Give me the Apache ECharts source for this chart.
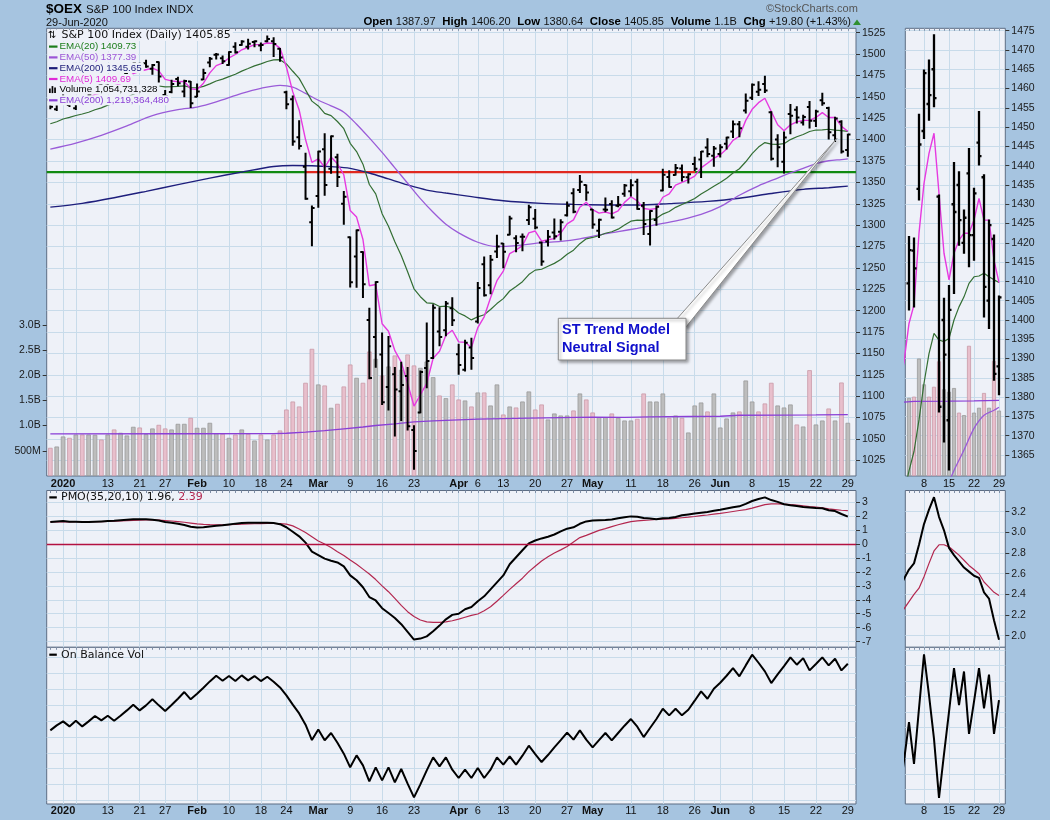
<!DOCTYPE html>
<html><head><meta charset="utf-8">
<script src="https://cdn.jsdelivr.net/npm/echarts@6.0.0/dist/echarts.min.js"></script>
<style>html,body{margin:0;padding:0;background:#a6c4e0;}#c{width:1050px;height:820px;}</style>
</head><body><div id="c"></div>
<script>
// ---------- DATA (day index 0 = 30-Dec-2019 ... 125 = 29-Jun-2020) ----------
const prevClose = 1446.7; // close of 27-Dec-2019
const open = [1446.7,1435.6,1448.7,1440.6,1436.6,1447.5,1446.0,1458.3,1465.3,1462.9,
1469.2,1467.8,1477.1,1486.3,1485.2,1489.2,1482.8,1490.6,1452.1,1455.8,
1471.0,1456.3,1467.9,1450.2,1470.4,1490.2,1499.2,1495.0,1487.3,1508.6,
1510.7,1508.6,1514.1,1510.0,1515.1,1515.1,1506.2,1455.5,1447.2,1402.9,
1368.4,1303.3,1334.0,1388.8,1366.0,1379.5,1325.0,1285.9,1263.3,1268.7,
1189.1,1169.3,1148.9,1110.9,1125.7,1105.8,1123.6,1060.6,1080.8,1133.0,
1144.6,1175.7,1177.1,1202.8,1149.1,1130.9,1156.9,1187.3,1254.3,1229.7,
1269.1,1278.5,1288.9,1284.6,1286.3,1306.1,1307.6,1279.6,1281.0,1291.4,
1292.4,1311.7,1337.2,1341.0,1346.8,1318.3,1293.5,1318.3,1324.8,1322.6,
1336.6,1339.7,1350.7,1322.6,1289.7,1306.0,1340.4,1356.4,1358.7,1366.2,
1356.1,1371.4,1376.7,1390.8,1381.0,1383.3,1395.1,1409.5,1418.0,1434.0,
1449.0,1456.0,1465.0,1432.0,1400.0,1374.0,1430.0,1435.0,1420.0,1438.0,
1422.0,1446.0,1437.0,1405.0,1421.0,1387.97];
const high = [1447.1,1443.0,1454.8,1449.4,1449.7,1448.9,1458.8,1462.6,1465.9,1470.4,
1473.2,1475.2,1483.4,1489.1,1489.1,1492.7,1487.8,1490.6,1457.4,1469.4,
1472.8,1469.4,1467.9,1464.9,1482.2,1495.9,1500.6,1497.6,1502.5,1513.0,
1515.6,1517.2,1515.2,1512.7,1521.0,1519.0,1506.3,1456.5,1450.8,1422.0,
1383.8,1322.4,1386.3,1406.8,1404.2,1382.7,1339.2,1285.9,1294.3,1268.7,
1202.7,1233.7,1173.8,1169.7,1133.5,1139.7,1133.3,1065.2,1129.3,1185.4,
1206.7,1203.3,1210.6,1215.0,1160.5,1165.3,1167.6,1232.7,1262.7,1264.4,
1288.1,1278.5,1310.4,1287.5,1289.6,1323.0,1318.3,1280.0,1293.5,1307.2,
1306.2,1326.9,1342.3,1357.8,1346.8,1318.3,1306.9,1331.7,1328.5,1333.4,
1347.3,1352.9,1353.6,1326.4,1316.6,1322.2,1365.3,1363.5,1370.9,1370.1,
1360.1,1379.4,1386.1,1400.8,1391.9,1393.9,1402.5,1421.6,1421.2,1453.3,
1464.8,1467.4,1473.9,1432.4,1405.6,1408.9,1440.8,1438.4,1428.5,1444.4,
1434.1,1454.0,1437.6,1425.9,1422.0,1406.2];
const low = [1436.2,1434.2,1444.7,1438.8,1435.3,1443.3,1445.2,1457.2,1456.0,1461.6,
1465.6,1467.1,1477.0,1484.2,1483.2,1484.7,1476.6,1467.5,1446.5,1454.8,
1463.2,1450.2,1437.6,1450.2,1470.4,1485.2,1494.5,1489.0,1487.0,1501.5,
1510.3,1506.2,1508.7,1504.0,1514.4,1497.4,1491.8,1436.3,1393.5,1389.1,
1330.3,1276.0,1320.9,1335.0,1360.9,1345.4,1301.3,1227.8,1227.6,1215.5,
1120.4,1134.0,1090.5,1084.1,1053.6,1071.7,1060.5,1014.8,1080.8,1109.9,
1144.3,1159.2,1170.8,1182.7,1125.8,1129.7,1131.6,1185.6,1217.2,1219.8,
1262.4,1250.4,1288.9,1268.9,1270.2,1300.8,1296.0,1253.1,1275.6,1284.0,
1282.8,1310.9,1314.5,1338.2,1329.1,1296.5,1285.6,1315.8,1308.5,1321.7,
1333.9,1334.1,1318.6,1289.1,1276.8,1300.0,1340.4,1344.3,1358.7,1351.7,
1349.5,1364.1,1355.7,1380.2,1368.9,1379.9,1389.1,1402.6,1403.4,1431.1,
1447.1,1451.8,1455.3,1376.2,1368.4,1361.1,1406.9,1419.4,1417.3,1413.8,
1415.5,1440.2,1400.8,1397.8,1384.4,1380.64];
const close = [1438.3,1442.5,1454.6,1444.4,1449.5,1445.4,1452.5,1462.2,1458.0,1470.4,
1468.2,1471.0,1483.3,1489.0,1485.1,1485.5,1487.2,1473.8,1450.6,1465.1,
1466.0,1468.4,1442.5,1456.2,1478.0,1494.6,1499.6,1491.5,1502.4,1502.0,
1514.7,1512.2,1515.0,1510.6,1517.7,1511.9,1496.0,1441.3,1397.7,1392.4,
1330.9,1320.0,1386.0,1347.0,1403.9,1356.2,1333.1,1233.2,1294.1,1230.9,
1121.2,1233.5,1092.8,1158.4,1107.9,1113.1,1064.9,1035.9,1128.2,1141.2,
1203.5,1169.1,1208.3,1188.9,1136.4,1162.4,1144.8,1226.6,1218.0,1259.5,
1274.9,1269.0,1307.8,1279.0,1286.4,1320.9,1297.2,1257.5,1286.3,1287.0,
1303.5,1322.7,1315.7,1350.7,1338.3,1300.7,1306.2,1318.0,1308.8,1323.9,
1346.3,1346.5,1318.8,1301.4,1316.4,1321.6,1358.8,1344.6,1366.9,1356.3,
1359.5,1365.8,1386.0,1383.1,1389.7,1391.0,1402.4,1418.1,1413.4,1445.5,
1464.0,1458.3,1457.5,1377.5,1391.0,1402.6,1428.0,1425.9,1426.5,1422.0,
1432.8,1442.5,1408.6,1424.6,1386.05,1405.85];
// volume in millions of shares
const volume = [559,585,784,757,823,823,823,817,724,823,
923,857,804,976,962,830,943,1015,943,923,
1035,1035,1154,956,956,1055,850,837,757,823,
923,837,704,823,724,823,903,1319,1478,1379,
1849,2523,1816,1796,1353,1432,1776,2212,1948,1849,
2470,2325,1994,2173,2391,2107,2411,2193,2146,2272,
1961,1597,1544,1816,1518,1498,1379,1657,1657,1399,
1816,1220,1379,1359,1478,1677,1319,1419,1121,1240,
1200,1200,1300,1637,1518,1260,1167,1167,1240,1154,
1101,1101,1134,1637,1478,1478,1637,1154,1200,1154,
863,1399,1458,1280,1637,962,1141,1260,1280,1895,
1478,1280,1439,1849,1399,1359,1419,1022,982,2100,
1022,1101,1339,1101,1855,1055];
const ema5 = [1442.1,1442.2,1446.3,1445.7,1447.0,1446.4,1448.5,1453.0,1454.7,1459.9,
1462.7,1465.5,1471.4,1477.3,1479.9,1481.7,1483.5,1480.3,1470.4,1468.6,
1467.8,1468.0,1459.5,1458.4,1466.0,1478.0,1486.5,1489.5,1495.5,1499.5,
1505.0,1508.0,1511.0,1511.0,1513.0,1512.5,1507.0,1484.9,1455.8,1434.7,
1400.1,1373.4,1377.6,1367.4,1379.6,1371.8,1358.9,1317.0,1309.4,1283.2,
1229.2,1230.6,1184.7,1175.9,1153.2,1139.8,1114.8,1088.5,1101.7,1114.9,
1144.4,1152.6,1171.2,1177.1,1163.5,1163.1,1157.0,1180.2,1192.8,1215.0,
1235.0,1246.3,1266.8,1270.9,1276.1,1291.0,1293.1,1281.2,1282.9,1284.3,
1290.7,1301.4,1306.2,1321.0,1326.8,1318.1,1314.1,1315.4,1313.2,1316.8,
1326.6,1333.2,1328.4,1319.4,1318.4,1319.5,1332.6,1336.6,1346.7,1349.9,
1353.1,1357.3,1366.9,1372.3,1378.1,1382.4,1389.1,1399.1,1403.9,1422.5,
1435.4,1443.2,1448.4,1432.8,1417.3,1410.4,1417.3,1420.7,1422.5,1422.5,
1425.9,1431.5,1425.9,1425.9,1415.5,1409.69];
const ema20 = [1418.6,1420.9,1424.1,1426.0,1428.2,1429.9,1432.0,1434.9,1437.1,1440.3,
1442.9,1445.6,1449.2,1453.0,1456.0,1458.8,1461.5,1462.7,1461.6,1461.9,
1462.3,1462.9,1460.9,1460.5,1462.2,1465.2,1468.5,1470.7,1473.7,1476.4,
1480.1,1483.1,1486.2,1488.5,1491.3,1493.2,1493.5,1488.5,1479.9,1471.6,
1458.2,1445.0,1439.4,1430.6,1428.1,1421.2,1412.8,1395.7,1386.0,1371.3,
1347.5,1336.6,1313.4,1298.6,1280.5,1264.5,1245.5,1225.6,1216.3,1209.2,
1208.6,1204.8,1205.2,1203.6,1197.2,1193.9,1189.2,1192.8,1195.2,1201.3,
1208.3,1214.1,1223.0,1228.3,1233.9,1242.2,1247.4,1248.4,1252.0,1255.3,
1259.9,1265.9,1270.7,1278.3,1284.0,1285.6,1287.6,1290.5,1292.3,1295.3,
1300.1,1304.6,1305.9,1305.5,1306.6,1308.0,1312.9,1315.9,1320.8,1324.2,
1327.5,1331.2,1336.4,1340.9,1345.5,1349.9,1354.9,1360.9,1365.9,1374.1,
1383.6,1391.3,1396.5,1394.8,1394.4,1395.2,1400.0,1403.4,1406.0,1409.5,
1411.2,1411.4,1412.1,1411.2,1410.4,1409.73];
// slow averages read at these day indexes
const ema50 = [[0,1389],[4,1396],[8,1405],[12,1416],[16,1428],[20,1435],[23,1438],[26,1444],[30,1454],[33,1460],[36,1463.5],[38,1461.5],[40,1454],[42,1446],[44,1439.5],[46,1432],[48,1418],[50,1402],[52,1385],[54,1367],[56,1349],[58,1331],[60,1315],[62,1301],[64,1291],[67,1280],[70,1275],[73,1276],[77,1279.5],[80,1281],[83,1284],[86,1288.5],[89,1292.4],[92,1296.3],[96,1302],[99,1306.5],[102,1312.5],[105,1321.6],[108,1335],[111,1346],[114,1355],[116,1361],[118,1366.3],[120,1371.9],[122,1375.3],[124,1376.6],[125,1377.39]];
const ema200 = [[0,1321],[5,1325.5],[10,1332],[15,1339.5],[20,1347.3],[25,1355],[30,1362],[35,1368.5],[38,1369.8],[41,1369.5],[44,1368.4],[47,1366.4],[50,1361],[53,1354],[56,1347],[59,1341],[62,1337.5],[66,1333.3],[71,1328.5],[77,1325.5],[82,1324.3],[87,1323.6],[92,1323.5],[97,1325.2],[103,1327.8],[108,1331.4],[113,1337],[118,1341.8],[122,1343.8],[125,1345.65]];
const volEma200 = [[0,837],[20,838],[35,840],[37,848],[40,870],[43,900],[46,936],[49,972],[51,1002],[54,1036],[57,1075],[60,1095],[63,1110],[67,1128],[71,1140],[75,1148],[80,1158],[85,1167],[90,1162],[94,1175],[100,1181],[105,1186],[108,1205],[115,1208],[120,1212],[125,1219]];
const pmo = [1.58,1.62,1.64,1.60,1.60,1.58,1.58,1.60,1.62,1.64,
1.66,1.70,1.74,1.77,1.78,1.77,1.74,1.68,1.58,1.52,
1.45,1.36,1.24,1.18,1.20,1.25,1.30,1.34,1.40,1.46,
1.50,1.52,1.52,1.52,1.52,1.50,1.42,1.20,0.88,0.55,
0.10,-0.55,-0.80,-1.05,-1.20,-1.32,-1.60,-2.25,-2.60,-3.10,
-3.80,-4.05,-4.60,-4.95,-5.30,-5.75,-6.30,-6.85,-6.78,-6.62,
-6.25,-5.85,-5.40,-5.08,-5.00,-4.68,-4.52,-4.10,-3.75,-3.25,
-2.75,-2.25,-1.45,-0.95,-0.45,0.05,0.25,0.40,0.52,0.68,
0.90,1.10,1.20,1.45,1.62,1.68,1.70,1.72,1.76,1.85,
1.92,1.98,1.96,1.86,1.82,1.78,1.85,1.86,1.94,2.06,
2.12,2.18,2.24,2.30,2.38,2.45,2.55,2.64,2.70,2.88,
3.08,3.22,3.34,3.15,3.02,2.85,2.78,2.72,2.66,2.62,
2.58,2.56,2.42,2.36,2.15,1.96];
const pmoSignal = [1.58,1.58,1.59,1.59,1.60,1.60,1.60,1.60,1.61,1.62,
1.63,1.65,1.67,1.69,1.71,1.72,1.72,1.71,1.68,1.65,
1.61,1.56,1.50,1.44,1.41,1.39,1.38,1.37,1.38,1.40,
1.42,1.44,1.45,1.46,1.47,1.47,1.46,1.42,1.30,1.08,
0.82,0.52,0.22,0.00,-0.25,-0.55,-0.82,-1.15,-1.45,-1.80,
-2.15,-2.55,-3.00,-3.42,-3.90,-4.40,-4.85,-5.20,-5.45,-5.58,
-5.62,-5.62,-5.58,-5.50,-5.38,-5.25,-5.12,-5.02,-4.78,-4.50,
-4.10,-3.68,-3.25,-2.85,-2.45,-1.98,-1.60,-1.22,-0.92,-0.65,
-0.42,-0.18,0.15,0.46,0.62,0.80,0.98,1.10,1.25,1.38,
1.50,1.60,1.66,1.70,1.72,1.76,1.78,1.80,1.84,1.88,
1.92,1.97,2.03,2.08,2.14,2.19,2.26,2.33,2.40,2.46,
2.57,2.70,2.82,2.88,2.88,2.86,2.82,2.78,2.73,2.68,
2.64,2.60,2.52,2.47,2.42,2.39];
// On Balance Volume, billions of shares (relative)
const obv = [12.01,12.83,13.48,12.66,13.59,12.66,13.48,14.35,13.64,14.40,
13.59,14.40,15.27,16.20,15.27,16.09,17.07,16.09,15.16,16.14,
17.17,18.26,17.07,17.99,18.97,20.00,20.92,20.11,20.87,20.05,
20.98,20.16,20.87,20.05,20.76,19.95,19.02,17.72,16.20,14.78,
12.93,10.43,12.17,10.38,11.58,10.00,8.21,5.98,7.93,6.30,
3.70,5.98,3.86,5.98,3.53,5.71,3.32,1.09,3.21,5.49,
7.61,6.14,7.61,5.60,4.24,5.60,4.24,5.87,4.24,5.60,
7.61,6.41,7.77,6.41,7.88,9.51,8.15,6.85,7.99,9.24,
10.43,11.63,10.49,12.01,10.49,9.24,10.43,11.58,10.38,11.58,
12.77,13.86,12.61,10.92,12.39,13.86,15.54,14.46,15.54,14.46,
15.38,16.85,18.37,17.17,18.80,19.78,20.92,22.17,20.82,22.61,
24.35,23.04,21.63,19.73,21.14,22.50,23.91,22.72,23.80,21.79,
22.83,23.91,22.61,23.70,21.79,22.88];
// axis labels / ticks (day indexes)
const xLabelIdx  = [2,9,14,18,23,28,33,37,42,47,52,57,64,67,71,76,81,85,91,96,101,105,110,115,120,125];
const xLabelText = ['2020','13','21','27','Feb','10','18','24','Mar','9','16','23','Apr','6','13','20','27','May','11','18','26','Jun','8','15','22','29'];
const xBoldLabels = ['2020','Feb','Mar','Apr','May','Jun'];
const xGridIdx = [2,4,9,14,18,23,28,33,37,42,47,52,57,64,67,71,76,81,85,91,96,101,105,110,115,120,125];
const thumbLabelIdx = [110,115,120,125];
const thumbFirstDay = 107;
const priceTicks = [1025,1050,1075,1100,1125,1150,1175,1200,1225,1250,1275,1300,1325,1350,1375,1400,1425,1450,1475,1500,1525];
const thumbPriceTicks = [1365,1370,1375,1380,1385,1390,1395,1400,1405,1410,1415,1420,1425,1430,1435,1440,1445,1450,1455,1460,1465,1470,1475];
const volTicks = [500,1000,1500,2000,2500,3000];
const pmoTicks = [-7,-6,-5,-4,-3,-2,-1,0,1,2,3];
const thumbPmoTicks = [2.0,2.2,2.4,2.6,2.8,3.0,3.2];
const obvGridLines = [0.55,3.15,5.75,8.35,10.95,13.55,16.15,18.75,21.35,23.95];
const thumbObvGridLines = [20,20.5,21,21.5,22,22.5,23,23.5,24,24.5];
// annotation: horizontal level, colour changes at these day indexes
const levelPrice = 1362.1;
const levelBreaks = [39.9, 101.05];
const calloutTip = [123.3, 1401.5];

// ---------- HELPERS / STYLE ----------
// x position on the axes = day index + 1 (keeps x=0 outside the plotted range)
const XS = 1;
const xv = i => i + XS;
const PANEL = '#eef1f8', GRIDC = '#c8dbea', BORDER = '#5d6d84';
const FS = '"Liberation Sans", Arial, sans-serif';
const FD = '"DejaVu Sans", Verdana, sans-serif';
const X0 = xv(-0.57), X1 = xv(126.28), TX0 = xv(106.26), TX1 = xv(126.26);
const allDays = close.map((c,i)=>xv(i));

const labelMap = {};
xLabelIdx.forEach((v,k)=>labelMap[xv(v)]=xLabelText[k]);
function xFmt(v){ const t = labelMap[Math.round(v)]; if(t===undefined) return ''; return xBoldLabels.includes(t) ? '{b|'+t+'}' : '{n|'+t+'}'; }
const xRich = { b:{fontWeight:'bold', fontSize:11, fontFamily:FS, color:'#111'}, n:{fontSize:11, fontFamily:FS, color:'#111'} };

function xAx(gi, min, max, labIdx, grid, showLab, margin){
  return {type:'value', gridIndex:gi, min, max, position:'bottom',
    axisLine:{show:false, onZero:false}, axisTick:{show:false, customValues:grid.map(xv)},
    splitLine:{show:true, lineStyle:{color:GRIDC, width:1}},
    axisLabel:{show:showLab, customValues:labIdx.map(xv), margin, formatter:xFmt, rich:xRich}};
}
function rulerAx(gi, min, max, pos){
  return {type:'value', gridIndex:gi, min, max, position:pos,
    axisLine:{show:false, onZero:false}, splitLine:{show:false}, axisLabel:{show:false},
    axisTick:{show:true, inside:true, length:2.5, customValues:allDays, lineStyle:{color:'#7f8ea6', width:1}}};
}
function yAx(gi, min, max, ticks, opt){
  return Object.assign({type:'value', gridIndex:gi, min, max, position:'right',
    axisLine:{show:false, onZero:false},
    axisTick:{show:true, length:4, customValues:ticks, lineStyle:{color:'#333'}},
    splitLine:{show:true, lineStyle:{color:GRIDC, width:1}},
    axisLabel:{customValues:ticks, margin:6, fontSize:10.5, fontFamily:FS, color:'#1a1a1a', formatter:v=>String(v)}}, opt||{});
}

const grids = [
 {left:46.7, top:28.3, width:809.3, height:447.7},
 {left:46.7, top:490.5, width:809.3, height:156.8},
 {left:46.7, top:647.3, width:809.3, height:156.7},
 {left:905.3, top:28.3, width:100, height:447.7},
 {left:905.3, top:490.5, width:100, height:156.8},
 {left:905.3, top:647.3, width:100, height:156.7}
].map(g=>Object.assign({show:true, backgroundColor:PANEL, borderColor:BORDER, borderWidth:1, containLabel:false}, g));

const thumbGrid = [110,115,120,125];
const xAxes = [
  xAx(0, X0, X1, xLabelIdx, xGridIdx, true, 2),
  xAx(1, X0, X1, xLabelIdx, xGridIdx, false, 2),
  xAx(2, X0, X1, xLabelIdx, xGridIdx, true, 1),
  xAx(3, TX0, TX1, thumbLabelIdx, thumbGrid, true, 2),
  xAx(4, TX0, TX1, thumbLabelIdx, thumbGrid, false, 2),
  xAx(5, TX0, TX1, thumbLabelIdx, thumbGrid, true, 1),
  rulerAx(0, X0, X1, 'top'),
  rulerAx(1, X0, X1, 'top'),
  rulerAx(2, X0, X1, 'top'),
  rulerAx(3, TX0, TX1, 'top'),
  rulerAx(4, TX0, TX1, 'top'),
  rulerAx(5, TX0, TX1, 'top')
];
const yAxes = [
  yAx(0, 1006.7, 1530.14, priceTicks),
  yAx(0, 0, 8883, volTicks, {position:'left', splitLine:{show:false},
     axisLabel:{customValues:volTicks, margin:6, fontSize:10.5, fontFamily:FS, color:'#1a1a1a',
       formatter:v=> v>=1000 ? (v/1000).toFixed(1)+'B' : v+'M'}}),
  yAx(1, -7.405, 3.835, pmoTicks),
  yAx(2, 0, 25.56, obvGridLines, {axisTick:{show:false, customValues:obvGridLines}, axisLabel:{show:false}}),
  yAx(3, 1359.55, 1475.62, thumbPriceTicks),
  {type:'value', gridIndex:3, min:0, max:7221, show:false, axisLine:{onZero:false}},
  yAx(4, 1.888, 3.405, thumbPmoTicks, {axisLabel:{customValues:thumbPmoTicks, margin:6, fontSize:10.5, fontFamily:FS, color:'#1a1a1a', formatter:v=>v.toFixed(1)}}),
  yAx(5, 19.53, 24.58, thumbObvGridLines, {axisTick:{show:false, customValues:thumbObvGridLines}, axisLabel:{show:false}})
];

// derived series data (from the arrays above)
const ohlc = close.map((c,i)=>[xv(i), open[i], high[i], low[i], c]);
const volData = volume.map((v,i)=>{
  const up = close[i] >= (i ? close[i-1] : prevClose);
  return {value:[xv(i),v], itemStyle:{color: up ? '#bdbdbd' : '#e8bfcc', borderColor: up ? '#9a9a9a' : '#c99aa8', borderWidth:0.8}};
});
const thumbVolData = volData.filter(d=>d.value[0] >= xv(thumbFirstDay));
const idx = a => a.map((v,i)=>[xv(i),v]);
const pts = a => a.map(d=>[xv(d[0]), d[1]]);

function ohlcRender(frac, lw){
  return function(params, api){
    const x = api.value(0);
    const pO = api.coord([x, api.value(1)]);
    const pH = api.coord([x, api.value(2)]);
    const pL = api.coord([x, api.value(3)]);
    const pC = api.coord([x, api.value(4)]);
    const w = api.size([1,0])[0]*frac;
    const st = {stroke:'#000', lineWidth:lw};
    return {type:'group', children:[
      {type:'line', shape:{x1:pH[0], y1:pH[1]-0.6, x2:pL[0], y2:pL[1]+0.6}, style:st},
      {type:'line', shape:{x1:pO[0]-w, y1:pO[1], x2:pO[0], y2:pO[1]}, style:st},
      {type:'line', shape:{x1:pC[0], y1:pC[1], x2:pC[0]+w, y2:pC[1]}, style:st}
    ]};
  };
}
function lineS(xi, yi, data, color, width, extra){
  return Object.assign({type:'line', xAxisIndex:xi, yAxisIndex:yi, data, showSymbol:false, symbol:'none', silent:true,
    lineStyle:{color, width}, z:3, clip:true}, extra||{});
}

const series = [
  {type:'bar', xAxisIndex:0, yAxisIndex:1, data:volData, barWidth:4.6, z:1, silent:true},
  lineS(0,1, pts(volEma200), '#8a3fd6', 1.3, {z:2}),
  lineS(0,0, [[X0,levelPrice],[xv(levelBreaks[0]),levelPrice]], '#118a11', 2.2, {z:2}),
  lineS(0,0, [[xv(levelBreaks[0]),levelPrice],[xv(levelBreaks[1]),levelPrice]], '#e0281e', 2.2, {z:2}),
  lineS(0,0, [[xv(levelBreaks[1]),levelPrice],[X1,levelPrice]], '#118a11', 2.2, {z:2}),
  lineS(0,0, pts(ema200), '#1e1e7c', 1.4, {smooth:0.3}),
  lineS(0,0, pts(ema50), '#9a5bd8', 1.3, {smooth:0.3}),
  lineS(0,0, idx(ema20), '#336e33', 1.2),
  lineS(0,0, idx(ema5), '#e63ae0', 1.4),
  {type:'custom', xAxisIndex:0, yAxisIndex:0, data:ohlc, renderItem:ohlcRender(0.42, 2), encode:{x:0, y:[1,2,3,4]}, z:5, silent:true, clip:true},
  lineS(1,2, idx(pmoSignal), '#b3274f', 1.2),
  lineS(1,2, idx(pmo), '#000', 2, {z:4, markLine:{silent:true, symbol:'none', label:{show:false},
      lineStyle:{color:'#b31040', width:1.3, type:'solid'}, data:[{yAxis:0}]}}),
  lineS(2,3, idx(obv), '#000', 2),
  // thumbnail (June detail)
  {type:'bar', xAxisIndex:3, yAxisIndex:5, data:thumbVolData, barWidth:4.0, z:1, silent:true},
  lineS(3,5, pts(volEma200), '#8a3fd6', 1.3, {z:2}),
  lineS(3,4, pts(ema50), '#9a5bd8', 1.3, {smooth:0.3}),
  lineS(3,4, idx(ema20), '#336e33', 1.2),
  lineS(3,4, idx(ema5), '#e63ae0', 1.4),
  {type:'custom', xAxisIndex:3, yAxisIndex:4, data:ohlc.filter(d=>d[0] >= xv(thumbFirstDay)), renderItem:ohlcRender(0.5, 2.3), encode:{x:0, y:[1,2,3,4]}, z:5, silent:true, clip:true},
  lineS(4,6, idx(pmoSignal), '#b3274f', 1.2),
  lineS(4,6, idx(pmo), '#000', 2, {z:4}),
  lineS(5,7, idx(obv), '#000', 2)
];

const chart = echarts.init(document.getElementById('c'), null, {width:1050, height:820});
chart.setOption({
  animation:false, backgroundColor:'#a6c4e0',
  textStyle:{fontFamily:FS},
  grid:grids, xAxis:xAxes, yAxis:yAxes, series
});

// ---------- TEXT / ANNOTATIONS ----------
const G = [];
function T(x, y, text, font, fill, extra, z){
  G.push({type:'text', x, y, z:z||100, style:Object.assign({text, font, fill, align:'left', verticalAlign:'middle', textAlign:'left', textVerticalAlign:'middle'}, extra||{})});
}
// header
T(46, 9.5, '$OEX', 'bold 13.5px '+FS, '#000');
T(86, 10, 'S&P 100 Index INDX', '11.5px '+FS, '#111');
T(46, 22.5, '29-Jun-2020', '11px '+FS, '#111');
T(766, 9, '\u00A9StockCharts.com', '11px '+FS, '#555');
G.push({type:'text', x:851, y:22, z:100, style:{
  text:'{l|Open} {v|1387.97}  {l|High} {v|1406.20}  {l|Low} {v|1380.64}  {l|Close} {v|1405.85}  {l|Volume} {v|1.1B}  {l|Chg} {v|+19.80 (+1.43%)}',
  align:'right', verticalAlign:'middle', textAlign:'right', textVerticalAlign:'middle',
  rich:{ l:{font:'bold 11.4px '+FS, fill:'#000'}, v:{font:'11px '+FS, fill:'#111'} } }});
G.push({type:'polygon', z:100, shape:{points:[[853,25],[861,25],[857,19.5]]}, style:{fill:'#2f8f2f'}});

// legend in main panel
const legendRows = [
  {y:46.5, c:'#1b7d1b', t:'EMA(20) 1409.73'},
  {y:57.3, c:'#9b55d6', t:'EMA(50) 1377.39'},
  {y:68.1, c:'#1c1c78', t:'EMA(200) 1345.65'},
  {y:78.9, c:'#e02ad8', t:'EMA(5) 1409.69'},
  {y:89.6, c:'#000', t:'Volume 1,054,731,328', vol:true},
  {y:100.2, c:'#8a3fd6', t:'EMA(200) 1,219,364,480'}
];
G.push({type:'rect', z:99, shape:{x:47.5, y:29.5, width:14, height:76}, style:{fill:PANEL}});
T(48, 35.5, '\u21C5', '10px '+FD, '#000');
T(61.5, 35.5, 'S&P 100 Index (Daily) 1405.85', '11px '+FD, '#111', {backgroundColor:PANEL, padding:[0,2,0,0]});
legendRows.forEach(r=>{
  if(r.vol){
    [[49,4.5],[51.6,7],[54.2,5.5]].forEach(b=>G.push({type:'rect', z:100, shape:{x:b[0], y:r.y+3.5-b[1], width:1.7, height:b[1]}, style:{fill:'#000'}}));
  } else {
    G.push({type:'rect', z:100, shape:{x:49, y:r.y-1, width:8.5, height:2.2}, style:{fill:r.c}});
  }
  T(59.5, r.y, r.t, '9.8px '+FS, r.c, {backgroundColor:PANEL, padding:[0,2,0,0]});
});
// PMO / OBV legends
G.push({type:'rect', z:100, shape:{x:49.3, y:496.3, width:7.5, height:2.2}, style:{fill:'#000'}});
G.push({type:'text', x:61, y:497.5, z:100, style:{text:'{a|PMO(35,20,10) 1.96, }{b|2.39}', align:'left', verticalAlign:'middle', textAlign:'left', textVerticalAlign:'middle',
  rich:{a:{font:'11px '+FD, fill:'#111'}, b:{font:'11px '+FD, fill:'#b3274f'}}}});
G.push({type:'rect', z:100, shape:{x:49.3, y:653.6, width:7.5, height:2.2}, style:{fill:'#000'}});
T(61, 655, 'On Balance Vol', '11px '+FD, '#111');

// callout
const tip = chart.convertToPixel({xAxisIndex:0, yAxisIndex:0}, [xv(calloutTip[0]), calloutTip[1]]);
const shadow = {shadowBlur:3, shadowOffsetX:2, shadowOffsetY:2, shadowColor:'rgba(0,0,0,0.35)'};
G.push({type:'polygon', z:101, shape:{points:[[677,318.8],[686,327],[tip[0],tip[1]]]}, style:Object.assign({fill:'#fff', stroke:'#8a8a8a', lineWidth:1}, shadow)});
G.push({type:'rect', z:102, shape:{x:558.3, y:318.3, width:127.7, height:41.7}, style:Object.assign({fill:'#fff', stroke:'#8a8a8a', lineWidth:1}, shadow)});
T(562, 329.5, 'ST Trend Model', 'bold 14.5px '+FS, '#1010cc', {}, 104);
T(562, 348.3, 'Neutral Signal', 'bold 14.5px '+FS, '#1010cc', {}, 104);

chart.setOption({graphic:G});
</script>
</body></html>
